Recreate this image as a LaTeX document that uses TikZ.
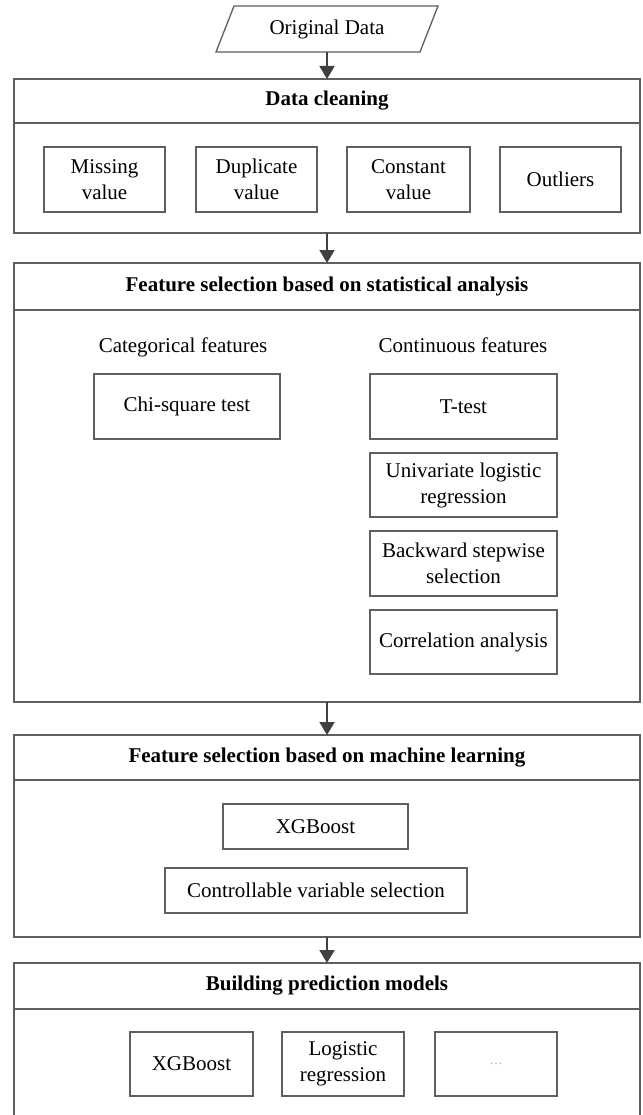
\documentclass[tikz,border=0pt]{standalone}
\usepackage{fontspec}
\setmainfont{Liberation Serif}
\usetikzlibrary{arrows.meta}
\definecolor{linegray}{RGB}{95,95,95}
\definecolor{arrowgray}{RGB}{64,64,64}
\newcommand{\diafont}{\fontsize{21}{26}\selectfont}
\tikzset{
  frame/.style={draw=linegray, line width=1.3pt, inner sep=0pt, outer sep=0pt, rectangle},
  itembox/.style={frame, align=center},
  header/.style={frame, font=\diafont\bfseries, minimum width=626pt},
  body/.style={frame, minimum width=626pt},
  plain/.style={inner sep=0pt, outer sep=0pt, align=center},
  flow/.style={-{Triangle[width=15pt,length=13pt]}, draw=arrowgray, line width=1.8pt}
}
\begin{document}
\begin{tikzpicture}[x=1pt, y=-1pt, font=\diafont]
\useasboundingbox (0,0) rectangle (642,1115);
\fill[white] (0,0) rectangle (642,1115);
\clip (0,0) rectangle (642,1115);

% Original data (parallelogram)
\node[plain, minimum width=204pt, minimum height=46pt] (orig) at (327,29) {Original Data};
\draw[draw=linegray, line width=1.3pt]
  ([xshift=9pt]orig.north west) -- ([xshift=9pt]orig.north east)
  -- ([xshift=-9pt]orig.south east) -- ([xshift=-9pt]orig.south west) -- cycle;

% Data cleaning
\node[header, minimum height=44pt] (dch) at (327,101) {Data cleaning};
\node[body, minimum height=110pt] (dcb) at (327,178) {};
\node[itembox, minimum width=121pt, minimum height=65pt] (miss) at (104.5,179.5) {Missing\\value};
\node[itembox, minimum width=121pt, minimum height=65pt] (dup) at (256.5,179.5) {Duplicate\\value};
\node[itembox, minimum width=123pt, minimum height=65pt] (const) at (408.5,179.5) {Constant\\value};
\node[itembox, minimum width=121pt, minimum height=65pt] (outl) at (560.5,179.5) {Outliers};

% Statistical analysis
\node[header, minimum height=47pt] (sth) at (327,286.5) {Feature selection based on statistical analysis};
\node[body, minimum height=392pt] (stb) at (327,506) {};
\node[plain, anchor=base] (cat) at (183,352) {Categorical features};
\node[plain, anchor=base] (cont) at (463,352) {Continuous features};
\node[itembox, minimum width=186pt, minimum height=65pt] (chi) at (187,406.5) {Chi-square test};
\node[itembox, minimum width=187pt, minimum height=65pt] (ttest) at (463.5,406.5) {T-test};
\node[itembox, minimum width=187pt, minimum height=64pt] (univ) at (463.5,485) {Univariate logistic\\regression};
\node[itembox, minimum width=187pt, minimum height=65pt] (back) at (463.5,563.5) {Backward stepwise\\selection};
\node[itembox, minimum width=187pt, minimum height=64pt] (corr) at (463.5,642) {Correlation analysis};

% Machine learning
\node[header, minimum height=45pt] (mlh) at (327,757.5) {Feature selection based on machine learning};
\node[body, minimum height=157pt] (mlb) at (327,858.5) {};
\node[itembox, minimum width=185pt, minimum height=45pt] (xgb) at (315.5,826.5) {XGBoost};
\node[itembox, minimum width=302pt, minimum height=45pt] (ctrl) at (316,890.5) {Controllable variable selection};

% Building prediction models
\node[header, minimum height=46pt] (bph) at (327,986) {Building prediction models};
\node[body, minimum height=131pt] (bpb) at (327,1074.5) {};
\node[itembox, minimum width=123pt, minimum height=64pt] (mxgb) at (191.5,1064) {XGBoost};
\node[itembox, minimum width=122pt, minimum height=64pt] (mlog) at (343,1064) {Logistic\\regression};
\node[itembox, minimum width=122pt, minimum height=64pt] (mdots) at (496,1064) {\textcolor{gray!60}{\fontsize{13}{14}\selectfont\textellipsis}};

% Connectors
\draw[flow] (orig.south) -- (orig.south |- dch.north);
\draw[flow] (dcb.south) -- (sth.north);
\draw[flow] (stb.south) -- (mlh.north);
\draw[flow] (mlb.south) -- (bph.north);
\end{tikzpicture}
\end{document}
